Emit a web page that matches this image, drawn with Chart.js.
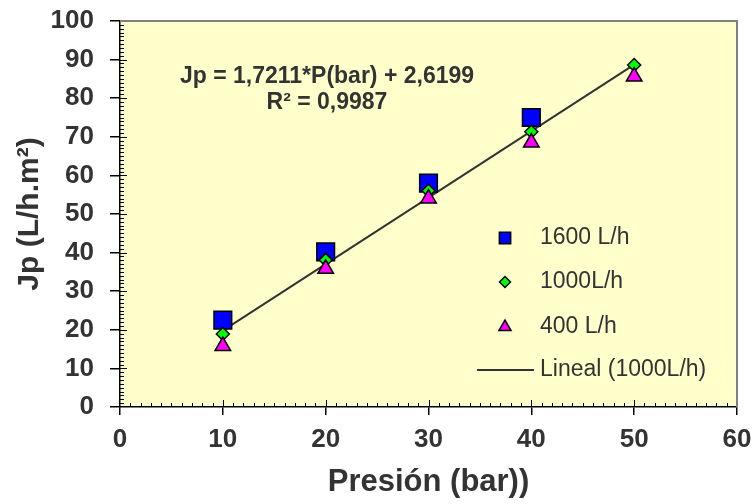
<!DOCTYPE html>
<html>
<head>
<meta charset="utf-8">
<script src="https://cdn.jsdelivr.net/npm/chart.js@4.4.1/dist/chart.umd.min.js"></script>
<style>
html, body { margin: 0; padding: 0; background: #fff; }
#wrap { width: 756px; height: 504px; }
</style>
</head>
<body>
<div id="wrap"><canvas id="grafico"></canvas></div>
<script>
// datos
const presion = [10, 20, 30, 40, 50];
const caudal1600 = [22.5, 40.2, 58.0, 75.0, null];
const caudal1000 = [18.9, 38.1, 56.0, 71.3, 88.6];
const caudal400 = [15.8, 35.8, 54.0, 68.5, 85.6];
const lineaX = [10, 50];
const lineaY = [19.8, 88.7];
const etiquetas = ['1600 L/h', '1000L/h', '400 L/h', 'Lineal (1000L/h)'];
const ecuacion = ['Jp = 1,7211*P(bar) + 2,6199', 'R² = 0,9987'];

const fuente = "'Liberation Sans', Arial, sans-serif";
const gris = '#333';

function puntos(xs, ys) {
    return xs.map((x, i) => ({ x: x, y: ys[i] })).filter(p => p.y !== null);
}

function marcador(ctx, estilo, x, y, r, relleno) {
    ctx.beginPath();
    if (estilo === 'rect') {
        const s = Math.SQRT1_2 * r;
        ctx.rect(x - s, y - s, 2 * s, 2 * s);
    } else if (estilo === 'rectRot') {
        ctx.moveTo(x, y - r); ctx.lineTo(x + r, y); ctx.lineTo(x, y + r); ctx.lineTo(x - r, y);
        ctx.closePath();
    } else {
        ctx.moveTo(x, y - r);
        ctx.lineTo(x + r * 0.866, y + r * 0.5);
        ctx.lineTo(x - r * 0.866, y + r * 0.5);
        ctx.closePath();
    }
    ctx.fillStyle = relleno;
    ctx.fill();
    ctx.lineWidth = 1.5;
    ctx.strokeStyle = '#000';
    ctx.stroke();
}

const extras = {
    id: 'extras',
    beforeDraw(chart) {
        const { ctx, chartArea: a } = chart;
        ctx.save();
        ctx.fillStyle = '#FFFFCC';
        ctx.fillRect(a.left, a.top, a.right - a.left, a.bottom - a.top);
        ctx.restore();
    },
    beforeDatasetsDraw(chart) {
        const { ctx, chartArea: a, scales } = chart;
        ctx.save();
        ctx.strokeStyle = '#000';
        ctx.lineWidth = 1;
        ctx.beginPath();
        for (let v = 1; v < 60; v++) {
            const x = Math.round(scales.x.getPixelForValue(v)) + 0.5;
            const l = v % 10 === 0 ? 7 : 4;
            ctx.moveTo(x, a.bottom); ctx.lineTo(x, a.bottom - l);
        }
        for (let v = 1; v < 100; v++) {
            const y = Math.round(scales.y.getPixelForValue(v)) + 0.5;
            const l = v % 10 === 0 ? 7 : 4;
            ctx.moveTo(a.left, y); ctx.lineTo(a.left + l, y);
        }
        ctx.stroke();
        // borde superior y derecho
        ctx.strokeStyle = '#808080';
        ctx.lineWidth = 2;
        ctx.beginPath();
        ctx.moveTo(a.left, a.top); ctx.lineTo(a.right, a.top); ctx.lineTo(a.right, a.bottom);
        ctx.stroke();
        ctx.restore();
    },
    afterDraw(chart) {
        const { ctx } = chart;
        ctx.save();
        // ecuacion
        ctx.fillStyle = gris;
        ctx.font = 'bold 23px ' + fuente;
        ctx.textAlign = 'center';
        ctx.textBaseline = 'middle';
        ctx.fillText(ecuacion[0], 327, 77);
        ctx.fillText(ecuacion[1], 327, 103);
        // leyenda
        const ds = chart.data.datasets;
        const ys = [238, 282, 327, 370];
        ctx.font = '23px ' + fuente;
        ctx.textAlign = 'left';
        for (let i = 0; i < 3; i++) {
            const r = ds[i].pointStyle === 'rect' ? 8 : (ds[i].pointStyle === 'rectRot' ? 5.5 : 7);
            marcador(ctx, ds[i].pointStyle, 505, ys[i], r, ds[i].backgroundColor);
            ctx.fillStyle = gris;
            ctx.fillText(ds[i].label, 540, ys[i]);
        }
        ctx.strokeStyle = ds[3].borderColor;
        ctx.lineWidth = 2;
        ctx.beginPath();
        ctx.moveTo(477, ys[3]); ctx.lineTo(534, ys[3]);
        ctx.stroke();
        ctx.fillStyle = gris;
        ctx.fillText(ds[3].label, 540, ys[3]);
        ctx.restore();
    }
};

new Chart(document.getElementById('grafico'), {
    type: 'scatter',
    data: {
        datasets: [
            {
                label: etiquetas[0],
                data: puntos(presion, caudal1600),
                pointStyle: 'rect',
                pointRadius: 12.5,
                backgroundColor: '#0000FF',
                borderColor: '#000',
                borderWidth: 1.5,
                order: 3
            },
            {
                label: etiquetas[1],
                data: puntos(presion, caudal1000),
                pointStyle: 'rectRot',
                pointRadius: 6.5,
                backgroundColor: '#00FF00',
                borderColor: '#000',
                borderWidth: 1.5,
                order: 2
            },
            {
                label: etiquetas[2],
                data: puntos(presion, caudal400),
                pointStyle: 'triangle',
                pointRadius: 9,
                backgroundColor: '#FF00FF',
                borderColor: '#000',
                borderWidth: 1.5,
                order: 1
            },
            {
                type: 'line',
                label: etiquetas[3],
                data: puntos(lineaX, lineaY),
                borderColor: '#333',
                borderWidth: 2,
                pointRadius: 0,
                fill: false,
                order: 4
            }
        ]
    },
    options: {
        responsive: true,
        maintainAspectRatio: false,
        animation: false,
        layout: { padding: { top: 21, right: 19, left: 0, bottom: 0 } },
        plugins: {
            legend: { display: false },
            tooltip: { enabled: false }
        },
        scales: {
            x: {
                type: 'linear',
                min: 0,
                max: 60,
                ticks: { stepSize: 10, color: gris, padding: 9, font: { family: fuente, size: 26, weight: 'bold' } },
                grid: { drawOnChartArea: false, tickLength: 8, color: '#000', lineWidth: 1.5 },
                border: { color: '#000', width: 1.5 },
                title: { display: true, text: 'Presión (bar))', color: gris, padding: { top: 2, bottom: 3 }, font: { family: fuente, size: 31, weight: 'bold' } },
                afterFit(scale) {
                    scale.height = 97;
                    scale.paddingLeft = 0;
                    scale.paddingRight = 0;
                }
            },
            y: {
                min: 0,
                max: 100,
                ticks: { stepSize: 10, color: gris, padding: 16, font: { family: fuente, size: 26, weight: 'bold' } },
                grid: { drawOnChartArea: false, tickLength: 10, color: '#000', lineWidth: 1.5 },
                border: { color: '#000', width: 1.5 },
                title: { display: true, text: 'Jp (L/h.m²)', color: gris, padding: { top: 12, bottom: 4 }, font: { family: fuente, size: 30, weight: 'bold' } },
                afterFit(scale) {
                    scale.width = 120;
                    scale.paddingTop = 0;
                    scale.paddingBottom = 0;
                }
            }
        }
    },
    plugins: [extras]
});
</script>
</body>
</html>
